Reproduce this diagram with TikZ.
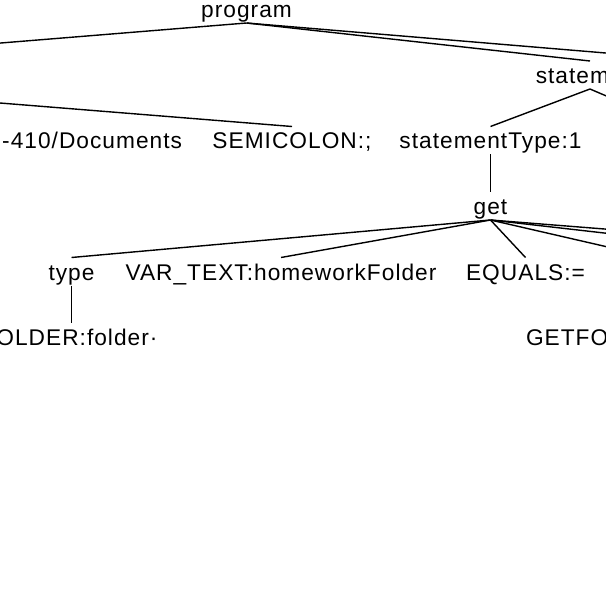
\documentclass[tikz,border=0pt]{standalone}
\usepackage{fontspec}
\setmainfont{Liberation Sans}[LetterSpace=4.5]
\begin{document}
\begin{tikzpicture}[x=1pt,y=-1pt,
  tn/.style={inner sep=0pt, outer sep=0pt, text height=22.5pt, text depth=5.5pt,
    font=\fontsize{22.7}{27}\selectfont, anchor=base},
  edge/.style={line width=1.4pt, line cap=butt}]
\useasboundingbox (0,0) rectangle (606,602);
% nodes
\node[tn] (program) at (246.5,17.5) {program};
\node[tn, text width=108.5pt, align=left] (statement) at (590,83.5) {statem};
\node[tn, anchor=base east] (docs) at (182,149) {-410/Documents};
\node[tn] (semi) at (292,149) {SEMICOLON:;};
\node[tn] (stype) at (490.5,149) {statementType:1};
\node[tn] (get) at (490.5,214.5) {get};
\node[tn] (type) at (71.5,280) {type};
\node[tn] (var) at (281,280) {VAR\_TEXT:homeworkFolder};
\node[tn] (equals) at (525.5,280) {EQUALS:=};
\node[tn, text width=172pt, align=right] (folder) at (71.5,345.5) {OLDER:folder·};
\node[tn, anchor=base west] (getfo) at (526,345.5) {GETFO};
% free ends of connectors that leave the picture
\coordinate (lc) at (-20,44.7);
\coordinate (rc) at (626,54.7);
\coordinate (semp) at (-20,101.4);
\coordinate (stc) at (626,104.4);
\coordinate (g1) at (626,230.7);
\coordinate (g2) at (626,235.5);
\coordinate (g3) at (626,251.2);
% connectors
\draw[edge] (program.south) -- (lc);
\draw[edge] (program.south) -- (statement.north);
\draw[edge] (program.south) -- (rc);
\draw[edge] (semp) -- (semi.north);
\draw[edge] (statement.south) -- (stype.north);
\draw[edge] (statement.south) -- (stc);
\draw[edge] (stype.south) -- (get.north);
\draw[edge] (get.south) -- (type.north);
\draw[edge] (get.south) -- (var.north);
\draw[edge] (get.south) -- (equals.north);
\draw[edge] (get.south) -- (g1);
\draw[edge] (get.south) -- (g2);
\draw[edge] (get.south) -- (g3);
\draw[edge] (type.south) -- (folder.north);
\end{tikzpicture}
\end{document}
